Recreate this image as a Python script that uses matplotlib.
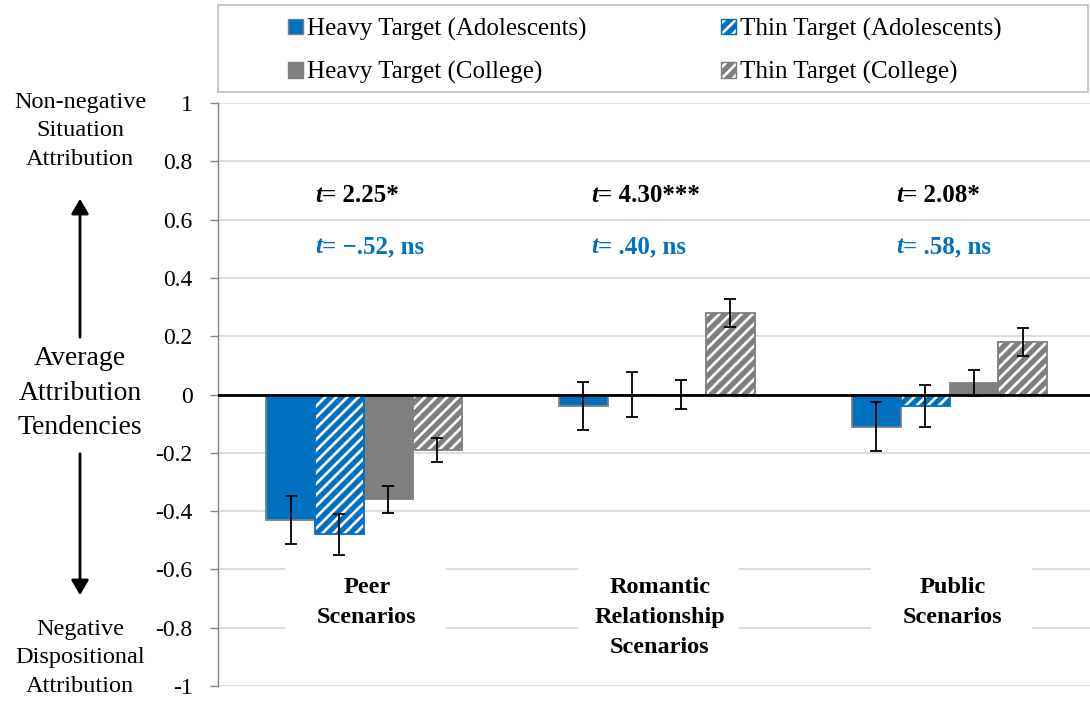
import matplotlib
matplotlib.use("Agg")
import matplotlib.pyplot as plt
from matplotlib.patches import Patch, Rectangle, FancyArrowPatch
import numpy as np

plt.rcParams['font.family'] = ['Liberation Serif', 'DejaVu Serif']
plt.rcParams['hatch.linewidth'] = 1.9

categories = ["Peer\nScenarios", "Romantic\nRelationship\nScenarios", "Public\nScenarios"]
series = ["Heavy Target (Adolescents)", "Thin Target (Adolescents)",
          "Heavy Target (College)", "Thin Target (College)"]
heavy_adol = [-0.43, -0.04, -0.11]
thin_adol = [-0.48, 0.00, -0.04]
heavy_coll = [-0.36, 0.00, 0.04]
thin_coll = [-0.19, 0.28, 0.18]
err_heavy_adol = [0.082, 0.082, 0.083]
err_thin_adol = [0.070, 0.077, 0.072]
err_heavy_coll = [0.047, 0.050, 0.045]
err_thin_coll = [0.041, 0.047, 0.048]
t_college = ["= 2.25*", "= 4.30***", "= 2.08*"]
t_adol = ["= \u2212.52, ns", "= .40, ns", "= .58, ns"]
yticks = [1, 0.8, 0.6, 0.4, 0.2, 0, -0.2, -0.4, -0.6, -0.8, -1]
ytick_labels = ["1", "0.8", "0.6", "0.4", "0.2", "0", "-0.2", "-0.4", "-0.6", "-0.8", "-1"]

BLUE = "#0070C0"
GRAY = "#7F7F7F"
fs_tick = 17
fs_ann = 18
fs_cat = 17.5
fs_side = 17.5
fs_leg = 18

fig = plt.figure(figsize=(10.9, 7.02), dpi=100)
W, H = 1090, 702
ax = fig.add_axes([217.5 / W, 1 - 686 / H, (1096 - 217.5) / W, (686 - 103) / H])

x = np.arange(len(categories))
bw = 0.167
vals = [heavy_adol, thin_adol, heavy_coll, thin_coll]
errs = [err_heavy_adol, err_thin_adol, err_heavy_coll, err_thin_coll]
faces = [BLUE, BLUE, GRAY, GRAY]
edges = [GRAY, BLUE, GRAY, GRAY]
hatches = [None, '///', None, '///']

for i in range(4):
    pos = x + (i - 1.5) * bw
    if hatches[i]:
        ax.bar(pos, vals[i], bw, color=faces[i], hatch=hatches[i], edgecolor='white',
               linewidth=0, zorder=2)
        ax.bar(pos, vals[i], bw, fill=False, edgecolor=edges[i], linewidth=1.3, zorder=3)
    else:
        ax.bar(pos, vals[i], bw, color=faces[i], edgecolor=edges[i], linewidth=1.3, zorder=2)
    ax.errorbar(pos, vals[i], yerr=errs[i], fmt='none', ecolor='black', elinewidth=1.3,
                capsize=4.5, capthick=1.3, zorder=5)

ax.set_xlim(-0.5, 2.5)
ax.set_ylim(-1, 1)
ax.set_yticks(yticks)
ax.set_yticklabels(ytick_labels, fontsize=fs_tick)
ax.set_xticks([])
ax.yaxis.grid(True, color='#D9D9D9', linewidth=1.3, zorder=0)
ax.set_axisbelow(True)
for s in ['top', 'right', 'bottom']:
    ax.spines[s].set_visible(False)
ax.spines['left'].set_color('#868686')
ax.spines['left'].set_linewidth(1.0)
ax.tick_params(axis='y', length=6, width=1.0, color='#868686', pad=12)
ax.axhline(0, color='black', linewidth=2.0, zorder=4)

# category labels on white label areas
for xi, lab in zip(x, categories):
    ax.add_patch(Rectangle((xi - 0.27, -0.87), 0.55, 0.28, facecolor='white',
                           edgecolor='none', zorder=1.5))
    ax.text(xi + 0.01, -0.625, lab, ha='center', va='top', fontsize=fs_cat, fontweight='bold',
            linespacing=1.56, zorder=6)

# t annotations
t_offsets = [-0.167, -0.224, -0.183]
for xi, off, tc, ta in zip(x, t_offsets, t_college, t_adol):
    for yv, txt, col in [(0.661, tc, 'black'), (0.485, ta, BLUE)]:
        t1 = ax.text(xi + off, yv, "t", fontsize=fs_ann, fontweight='bold', fontstyle='italic',
                     color=col, ha='left', va='baseline')
        ax.annotate(txt, xy=(1, 0), xycoords=t1, ha='left', va='bottom', fontsize=fs_ann,
                    fontweight='bold', color=col)

# left labels
fig.text(80 / W, 1 - 131 / H, "Non-negative\nSituation\nAttribution", ha='center', va='center',
         fontsize=fs_side, linespacing=1.45)
fig.text(80 / W, 1 - 393 / H, "Average\nAttribution\nTendencies", ha='center', va='center',
         fontsize=20, linespacing=1.5)
fig.text(80 / W, 1 - 658 / H, "Negative\nDispositional\nAttribution", ha='center', va='center',
         fontsize=fs_side, linespacing=1.45)
fig.add_artist(FancyArrowPatch((80 / W, 1 - 340 / H), (80 / W, 1 - 196 / H),
               transform=fig.transFigure, arrowstyle='-|>,head_length=6,head_width=3.5',
               mutation_scale=1.5, color='black', linewidth=2.0))
fig.add_artist(FancyArrowPatch((80 / W, 1 - 451 / H), (80 / W, 1 - 598 / H),
               transform=fig.transFigure, arrowstyle='-|>,head_length=6,head_width=3.5',
               mutation_scale=1.5, color='black', linewidth=2.0))

# legend
fig.add_artist(Rectangle((218 / W, 1 - 92 / H), 870 / W, 87 / H, transform=fig.transFigure,
                         fill=False, edgecolor='#BFBFBF', linewidth=1.2))
h_ha = Patch(facecolor=BLUE, edgecolor=GRAY, linewidth=1.0)
h_ta = (Patch(facecolor=BLUE, hatch='///', edgecolor='white', linewidth=0),
        Patch(fill=False, edgecolor=BLUE, linewidth=1.0))
h_hc = Patch(facecolor=GRAY, edgecolor=GRAY, linewidth=1.0)
h_tc = (Patch(facecolor=GRAY, hatch='///', edgecolor='white', linewidth=0),
        Patch(fill=False, edgecolor=GRAY, linewidth=1.0))
fig.legend([h_ha, h_hc, h_ta, h_tc], [series[0], series[2], series[1], series[3]],
           loc='center', bbox_to_anchor=(645 / W, 1 - 51 / H), ncol=2, frameon=False,
           fontsize=fs_leg, handlelength=0.6, handleheight=0.6, handletextpad=0.15,
           columnspacing=5.4, labelspacing=0.82)

fig.savefig("out.png", dpi=100)
